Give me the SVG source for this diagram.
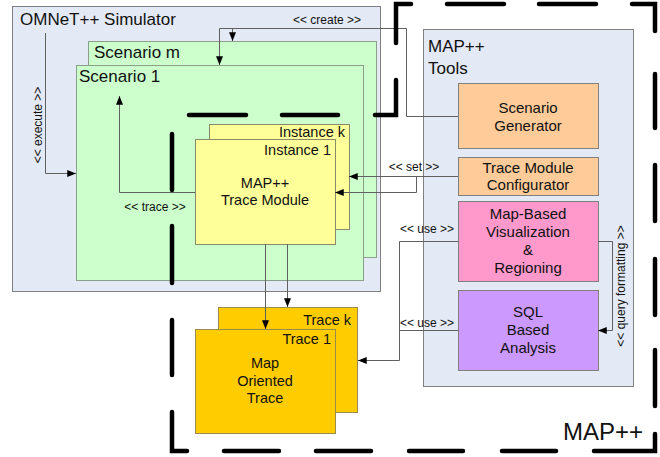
<svg xmlns="http://www.w3.org/2000/svg" width="660" height="457" viewBox="0 0 660 457">
<style>
text{font-family:"Liberation Sans",Arial,sans-serif;fill:#111}
.box{stroke:#808080;stroke-width:1}
.sim{fill:#e4eaf5}
.scn{fill:#ccffcc;stroke:#8a9e8a}
.ins{fill:#ffff99;stroke:#8a8a6a}
.trc{fill:#ffcc00;stroke:#9a8a50}
.org{fill:#ffcc99}
.pnk{fill:#ff99cc}
.pur{fill:#cc99ff}
.c{text-anchor:middle}
.e{text-anchor:end}
.lbl{font-size:12px}
.t15{font-size:15px}
.conn{fill:none;stroke:#606060;stroke-width:1}
.arr{marker-end:url(#ah)}
.bound{fill:none;stroke:#000;stroke-width:4.5;stroke-linecap:round;stroke-linejoin:miter}
</style>
<defs>
<marker id="ah" viewBox="0 0 10 8" refX="10" refY="4" markerWidth="10" markerHeight="7" orient="auto" markerUnits="userSpaceOnUse">
<path d="M0,0 L10,4 L0,8 z" fill="#000"/>
</marker>
</defs>

<g id="omnet">
<rect class="box sim" x="12.5" y="6.5" width="368" height="285"/>
<text x="20" y="25" font-size="17">OMNeT++ Simulator</text>
</g>

<g id="scenario-m">
<rect class="box scn" x="88.5" y="41.5" width="288" height="216"/>
<text x="94" y="58" font-size="17">Scenario m</text>
</g>

<g id="scenario-1">
<rect class="box scn" x="76.5" y="65.5" width="287" height="215"/>
<text x="79" y="82" font-size="17">Scenario 1</text>
</g>

<g id="instance-k">
<rect class="box ins" x="209.5" y="124.5" width="140" height="105"/>
<text class="e" x="345" y="137" font-size="14.5">Instance k</text>
</g>

<g id="instance-1">
<rect class="box ins" x="195.5" y="139.5" width="140" height="105"/>
<text class="e" x="331" y="155" font-size="14.5">Instance 1</text>
<text class="c" x="265" y="188" font-size="14.5">MAP++</text>
<text class="c" x="265" y="205" font-size="14.5">Trace Module</text>
</g>

<g id="map-tools">
<rect class="box sim" x="423.5" y="29.5" width="210" height="357"/>
<text x="428" y="52" font-size="17">MAP++</text>
<text x="428" y="74" font-size="17">Tools</text>
</g>

<g id="scenario-generator">
<rect class="box org" x="458.5" y="83.5" width="140" height="65"/>
<text class="c t15" x="528" y="113">Scenario</text>
<text class="c t15" x="528" y="131">Generator</text>
</g>

<g id="trace-module-configurator">
<rect class="box org" x="458.5" y="157.5" width="140" height="38"/>
<text class="c t15" x="528" y="173">Trace Module</text>
<text class="c t15" x="528" y="190">Configurator</text>
</g>

<g id="map-visualization">
<rect class="box pnk" x="458.5" y="201.5" width="140" height="80"/>
<text class="c t15" x="528" y="219">Map-Based</text>
<text class="c t15" x="528" y="237">Visualization</text>
<text class="c t15" x="528" y="255">&amp;</text>
<text class="c t15" x="528" y="273">Regioning</text>
</g>

<g id="sql-analysis">
<rect class="box pur" x="458.5" y="290.5" width="140" height="80"/>
<text class="c t15" x="528" y="317">SQL</text>
<text class="c t15" x="528" y="335">Based</text>
<text class="c t15" x="528" y="353">Analysis</text>
</g>

<g id="trace-k">
<rect class="box trc" x="218.5" y="307.5" width="139" height="105"/>
<text class="e" x="351" y="325" font-size="14.5">Trace k</text>
</g>

<g id="trace-1">
<rect class="box trc" x="195.5" y="329.5" width="140" height="104"/>
<text class="e" x="331" y="344" font-size="14.5">Trace 1</text>
<text class="c" x="265" y="368" font-size="14.5">Map</text>
<text class="c" x="265" y="386" font-size="14.5">Oriented</text>
<text class="c" x="265" y="403" font-size="14.5">Trace</text>
</g>

<g id="connectors">
<path class="conn arr" d="M45.5,33 V173.5 H76"/>
<text class="lbl c" transform="translate(42,125) rotate(-90)">&lt;&lt; execute &gt;&gt;</text>

<path class="conn arr" d="M458,116.5 H406.5 V28.5 H219.5 V65"/>
<path class="conn arr" d="M232.5,28.5 V41"/>
<text class="lbl c" x="327" y="24">&lt;&lt; create &gt;&gt;</text>

<path class="conn arr" d="M195,192.5 H119.5 V96"/>
<text class="lbl c" x="155" y="211">&lt;&lt; trace &gt;&gt;</text>

<path class="conn arr" d="M458,176.5 H349"/>
<path class="conn arr" d="M416.5,176.5 V192.5 H335"/>
<text class="lbl c" x="414" y="171">&lt;&lt; set &gt;&gt;</text>

<path class="conn arr" d="M458,241.5 H399.5 V360.5 H358"/>
<path class="conn" d="M458,330.5 H399.5"/>
<text class="lbl c" x="427" y="233">&lt;&lt; use &gt;&gt;</text>
<text class="lbl c" x="427" y="327">&lt;&lt; use &gt;&gt;</text>

<path class="conn arr" d="M598,241.5 H612.5 V330.5 H598"/>
<text class="lbl c" transform="translate(625,286) rotate(-90)">&lt;&lt; query formatting &gt;&gt;</text>

<path class="conn arr" d="M265.5,244 V329"/>
<path class="conn arr" d="M287.5,244 V307"/>
</g>

<g id="map-boundary">
<path class="bound" d="M396,43 V4 H411 M447,4 H504 M539,4 H596 M632,4 H655 V31 M655,74 V128 M655,165 V221 M655,259 V315 M655,350 V406 M655,434 V451 H594 M556,451 H502 M463,451 H409 M371,451 H316 M279,451 H224 M187,451 H172 V412 M172,375 V320 M172,283 V226 M172,190 V134 M189,115 H246 M282,115 H338 M375,115 H396 V80"/>
<text class="e" x="643" y="440" font-size="24">MAP++</text>
</g>
</svg>
